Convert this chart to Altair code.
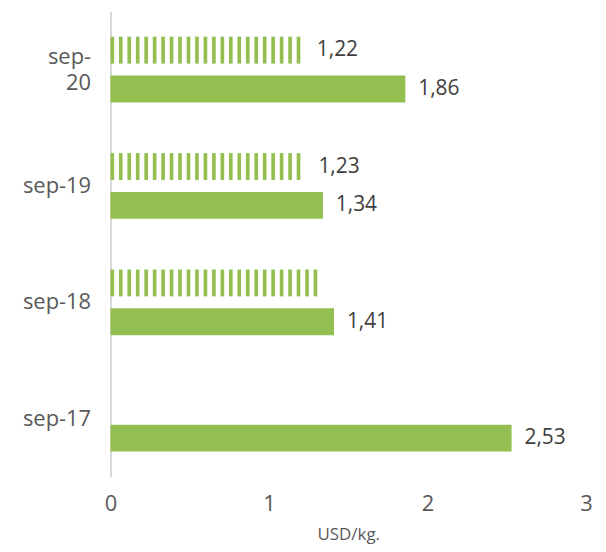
import altair as alt
import pandas as pd
import numpy as np

categories = ["sep-20", "sep-19", "sep-18", "sep-17"]
striped_values = [1.22, 1.23, 1.31, None]
striped_label_shown = [True, True, False, False]
solid_values = [1.86, 1.34, 1.41, 2.53]

GREEN = "#93BE50"
STRIPE_PERIOD = 0.0534
STRIPE_WIDTH = 0.023

def fmt(v):
    return f"{v:.2f}".replace(".", ",")

solid_df = pd.DataFrame({
    "cat": categories,
    "series": ["B"] * 4,
    "value": solid_values,
    "label": [fmt(v) for v in solid_values],
})

lab_rows = []
stripe_rows = []
for c, v, show in zip(categories, striped_values, striped_label_shown):
    if v is None:
        continue
    if show:
        lab_rows.append({"cat": c, "series": "A", "value": v, "label": fmt(v)})
    k = 0
    while k * STRIPE_PERIOD + STRIPE_WIDTH <= v:
        s = k * STRIPE_PERIOD
        stripe_rows.append({"cat": c, "series": "A", "start": s, "end": s + STRIPE_WIDTH})
        k += 1
stripe_df = pd.DataFrame(stripe_rows)
labels_df = pd.concat([pd.DataFrame(lab_rows), solid_df], ignore_index=True)

FONT = "Open Sans"

y_enc = alt.Y("cat:N", sort=categories,
              scale=alt.Scale(domain=categories, paddingInner=0, paddingOuter=0),
              axis=alt.Axis(title=None, ticks=False, domain=True, domainColor="#D9D9D9",
                            domainWidth=2, labelFontSize=22, labelColor="#595959",
                            labelFont=FONT, labelPadding=20, labelLineHeight=27,
                            labelOffset={"condition": {"test": "datum.value === 'sep-20'", "value": -13}, "value": 0},
                            labelExpr="datum.value == 'sep-20' ? ['sep-', '20'] : datum.value"))
yoff = alt.YOffset("series:N", scale=alt.Scale(domain=["A", "B"], paddingInner=0.308, paddingOuter=0.654))
x_scale = alt.Scale(domain=[0, 3])
x_axis = alt.Axis(title="USD/kg.", values=[0, 1, 2, 3], grid=False, ticks=False, domain=False,
                  labelFontSize=22, labelColor="#595959", labelFont=FONT, labelPadding=17,
                  labelFlush=False,
                  titleFontSize=17, titleFont=FONT, titleColor="#595959",
                  titleFontWeight="normal", titlePadding=12, format="d")

stripes = alt.Chart(stripe_df).mark_bar(color=GREEN).encode(
    x=alt.X("start:Q", scale=x_scale, axis=x_axis),
    x2="end:Q",
    y=y_enc,
    yOffset=yoff,
)

solid = alt.Chart(solid_df).mark_bar(color=GREEN).encode(
    x=alt.X("value:Q", scale=x_scale, axis=x_axis),
    y=y_enc,
    yOffset=yoff,
)

text = alt.Chart(labels_df).mark_text(align="left", baseline="middle", dx=13,
                                      fontSize=21, color="#404040", font=FONT).encode(
    x=alt.X("value:Q", scale=x_scale, axis=x_axis),
    y=y_enc,
    yOffset=yoff,
    text="label:N",
)

chart = alt.layer(stripes, solid, text).properties(
    width=478, height=468,
    padding={"left": 14, "top": 2, "right": 5, "bottom": 2},
).configure_view(stroke=None)

chart.save("out.html", embed_options={"renderer": "svg", "actions": False})
